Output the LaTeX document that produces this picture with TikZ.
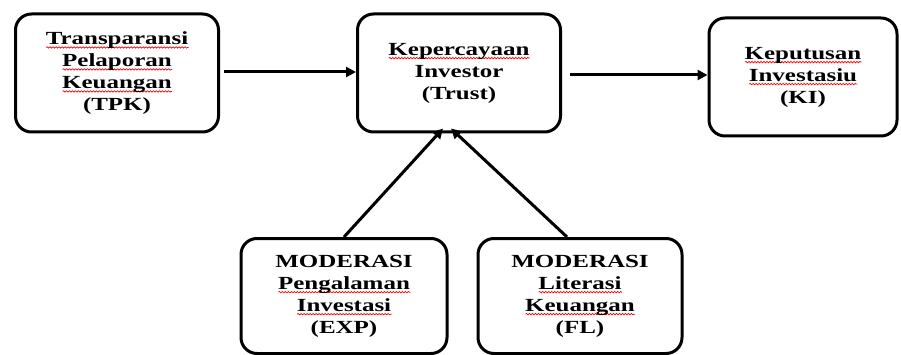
\documentclass[tikz,border=0pt]{standalone}
\usepackage{fontspec}
\setmainfont{Liberation Serif}[FakeStretch=1.35]
\usetikzlibrary{arrows.meta,decorations.pathmorphing}
\newlength\sqw
\newcommand\sq[1]{\settowidth\sqw{#1}\rlap{\tikz[baseline=0pt]{\draw[red,line width=0.7pt,sharp corners,decorate,decoration={snake,amplitude=0.7pt,segment length=3pt}] (0pt,-3pt) -- (\sqw,-3pt);}}#1}
\begin{document}
\begin{tikzpicture}[x=1pt,y=-1pt,
  box/.style={draw=black,line width=3pt,rounded corners=16pt,align=center,
    font=\bfseries\fontsize{18.5}{22}\selectfont,inner sep=0pt},
  arr/.style={line width=3pt,-{Triangle[length=10pt,width=10pt]}}]
\useasboundingbox (0,0) rectangle (901,355);
\clip (0,0) rectangle (901,355);
\fill[white] (0,0) rectangle (901,355);
\node[box,minimum width=203pt,minimum height=118pt] (tpk) at (117,73)
  {\sq{Transparansi}\\ \sq{Pelaporan}\\ \sq{Keuangan}\\ (TPK)};
\node[box,minimum width=203pt,minimum height=118pt] (trust) at (459,73)
  {\sq{Kepercayaan}\\ Investor\\ (Trust)};
\node[box,minimum width=188pt,minimum height=118pt] (ki) at (803,77)
  {\sq{Keputusan}\\ \sq{Investasiu}\\ (KI)};
\node[box,minimum width=206pt,minimum height=115pt] (exp) at (344,296)
  {MODERASI\\ \sq{Pengalaman}\\ \sq{Investasi}\\ (EXP)};
\node[box,minimum width=204pt,minimum height=115pt] (fl) at (580,296)
  {MODERASI\\ \sq{Literasi}\\ \sq{Keuangan}\\ (FL)};
\draw[arr] ([xshift=4pt,yshift=1pt]tpk.east) -- ([yshift=1pt]tpk.east -| trust.west);
\draw[arr] ([xshift=8pt,yshift=-2pt]trust.east) -- ([yshift=-2pt]trust.east -| ki.west);
\draw[arr] (exp.north) -- ([xshift=-16pt,yshift=5pt]trust.south);
\draw[arr] ([xshift=-13pt]fl.north) -- ([xshift=-8pt,yshift=5pt]trust.south);
\end{tikzpicture}
\end{document}
